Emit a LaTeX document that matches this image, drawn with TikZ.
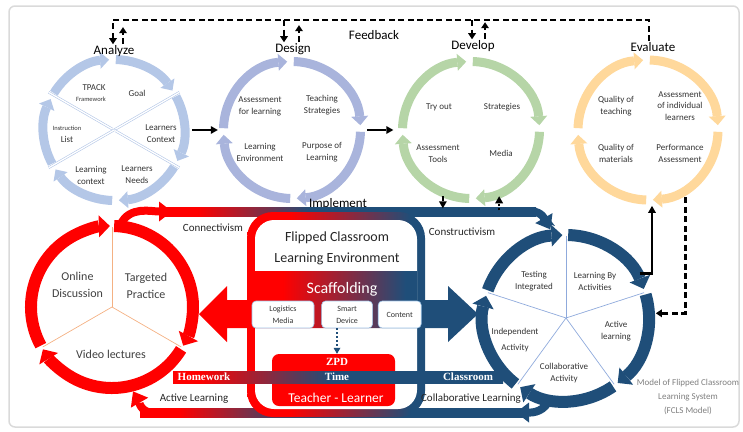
\documentclass[tikz,border=0pt]{standalone}
\usepackage{fontspec}
\setmainfont{Carlito}
\newfontfamily\bandfont{Liberation Serif}
\usetikzlibrary{arrows.meta,calc,positioning}

\definecolor{anblue}{HTML}{B4C7E7}
\definecolor{deblue}{HTML}{A9B4DC}
\definecolor{dvgreen}{HTML}{B6D5A7}
\definecolor{evorange}{HTML}{FFD89B}
\definecolor{fcred}{HTML}{FF0000}
\definecolor{fcblue}{HTML}{1F4E79}
\definecolor{peach}{HTML}{F4B183}
\definecolor{sectblue}{HTML}{8FAADC}
\definecolor{boxedge}{HTML}{9DC3E6}
\definecolor{framegray}{HTML}{DADADA}
\definecolor{txtgray}{HTML}{7F7F7F}

\pgfdeclarehorizontalshading{bandshade}{100bp}{color(0bp)=(fcred); color(30bp)=(fcred); color(45bp)=(fcblue); color(100bp)=(fcblue)}
\pgfdeclarehorizontalshading{hwshade}{100bp}{color(0bp)=(fcred); color(29bp)=(fcred); color(49bp)=(fcblue); color(100bp)=(fcblue)}
\pgfdeclarehorizontalshading{scafshade}{100bp}{color(0bp)=(fcred); color(40bp)=(fcred); color(62bp)=(fcblue); color(100bp)=(fcblue)}
\pgfdeclarehorizontalshading{boxshade}{100bp}{color(0bp)=(fcred); color(37bp)=(fcred); color(71bp)=(fcblue); color(100bp)=(fcblue)}

\tikzset{
  lbl/.style={font=\fontsize{9}{12}\selectfont, align=center, text=black!80, inner sep=1pt},
  tinylbl/.style={font=\fontsize{6.5}{8}\selectfont, text=black!80, inner sep=1pt},
  phase/.style={font=\fontsize{13}{15}\selectfont, inner sep=1pt},
  bigl/.style={font=\fontsize{12}{17}\selectfont, align=center, text=black!75},
  flow/.style={font=\fontsize{11}{13}\selectfont, text=black!85},
  bandlbl/.style={font=\bandfont\bfseries\fontsize{11}{13}\selectfont, text=white, inner sep=0pt},
  ring/.style={line width=9pt, draw=#1, -{Triangle[width=17pt,length=9pt,line width=0pt]}},
  bigring/.style={line width=12pt, draw=#1, -{Triangle[width=22pt,length=11pt,line width=0pt]}},
  sect/.style={draw=#1, line width=0.6pt, double=white, double distance=1.3pt},
  conn/.style={line width=2.5pt, -{Triangle[width=8pt,length=7pt,line width=0pt]}},
  fbline/.style={line width=2.5pt, dash pattern=on 6pt off 3.5pt},
  fbarrow/.style={fbline, -{Triangle[width=8pt,length=6pt,line width=0pt]}},
  dotarrow/.style={draw=fcblue, line width=2pt, dash pattern=on 2pt off 2pt, -{Triangle[width=7pt,length=6pt,line width=0pt]}},
  bandtip/.style={line width=8pt, draw=#1, -{Triangle[width=20pt,length=13pt,line width=0pt]}},
  scafbox/.style={draw=boxedge, fill=white, rounded corners=4pt, line width=0.6pt, align=center, font=\fontsize{8}{12}\selectfont, text=black!80, inner sep=0pt, minimum height=27pt},
  hub/.style={circle, inner sep=0pt, minimum size=#1}
}

\begin{document}
\begin{tikzpicture}[x=1pt,y=1pt]
\useasboundingbox (0,0) rectangle (743,-431);
\draw[framegray, line width=1.5pt, rounded corners=6pt] (9,-6) rectangle (739,-427);

% the four phase circles
\node[hub=150pt] (anC) at (114,-130) {};
\node[hub=146pt] (deC) at (292,-130) {};
\node[hub=147pt] (dvC) at (471,-130) {};
\node[hub=150pt] (evC) at (648,-130) {};

\foreach \a in {150,90,...,-150}
  \draw[ring=anblue] ($(anC)+({\a-1.5}:70.5)$) arc[start angle=\a-1.5, end angle=\a-56, radius=70.5];
\foreach \a in {150,90,...,-150}
  \draw[sect=anblue] (anC.center) -- ++(\a:75.5);

\foreach \a in {180,90,0,-90}
  \draw[ring=deblue] ($(deC)+({\a-1.5}:68.5)$) arc[start angle=\a-1.5, end angle=\a-86, radius=68.5];
\foreach \a in {180,90,0,-90}
  \draw[sect=deblue] (deC.center) -- ++(\a:73);

\foreach \a in {180,90,0,-90}
  \draw[ring=dvgreen] ($(dvC)+({\a-1.5}:68.5)$) arc[start angle=\a-1.5, end angle=\a-86, radius=68.5];
\foreach \a in {180,90,0,-90}
  \draw[sect=dvgreen] (dvC.center) -- ++(\a:73.5);

\foreach \a in {180,90,0,-90}
  \draw[ring=evorange] ($(evC)+({\a-1.5}:70)$) arc[start angle=\a-1.5, end angle=\a-86, radius=70];
\foreach \a in {180,90,0,-90}
  \draw[sect=evorange] (evC.center) -- ++(\a:75);

% phase texts
\node[lbl] (anTp) at (94,-88) {TPACK};
\node[tinylbl] (anFw) at (91,-99) {Framework};
\node[lbl] (anGo) at (137,-93) {Goal};
\node[lbl] (anLc) at (161,-134) {Learners\\Context};
\node[tinylbl] (anIn) at (67,-128) {Instruction};
\node[lbl] (anLi) at (67,-139) {List};
\node[lbl] (anLx) at (91,-175) {Learning\\context};
\node[lbl] (anLn) at (137,-175) {Learners\\Needs};

\node[lbl] (deAf) at (260,-106) {Assessment\\for learning};
\node[lbl] (deTs) at (322,-105) {Teaching\\Strategies};
\node[lbl] (deLe) at (260,-152.5) {Learning\\Environment};
\node[lbl] (dePl) at (322,-152.5) {Purpose of\\Learning};

\node[lbl] (dvTo) at (439,-107) {Try out};
\node[lbl] (dvSt) at (502,-107) {Strategies};
\node[lbl] (dvAt) at (438,-153.5) {Assessment\\Tools};
\node[lbl] (dvMe) at (501,-153) {Media};

\node[lbl] (evQt) at (616,-106) {Quality of\\teaching};
\node[lbl, font=\fontsize{9}{11.5}\selectfont] (evAi) at (680,-106) {Assessment\\of individual\\learners};
\node[lbl] (evQm) at (616,-153.5) {Quality of\\materials};
\node[lbl] (evPa) at (680,-153.5) {Performance\\Assessment};

\node[phase] (tAn) at (114,-51) {Analyze};
\node[phase] (tDe) at (293,-49) {Design};
\node[phase] (tDv) at (473,-46) {Develop};
\node[phase] (tEv) at (653,-47) {Evaluate};
\node[phase] (tFb) at (374,-35) {Feedback};
\node[phase] (tIm) at (338,-204) {Implement};

% feedback loop
\coordinate (fbtop) at (0,-20);
\draw[fbarrow] ([xshift=-4pt]tEv.north) -- ([xshift=-4pt]tEv.north |- fbtop) -- ([xshift=-1pt]tAn.north |- fbtop) -- ([xshift=-1pt]tAn.north);
\draw[fbarrow] ([xshift=9pt]tAn.north) -- ++(0,17);
\draw[fbarrow] ([xshift=-9pt]tDe.north |- fbtop) -- ([xshift=-9pt]tDe.north);
\draw[fbarrow] ([xshift=6pt]tDe.north) -- ++(0,17);
\draw[fbarrow] ([xshift=-1pt]tDv.north |- fbtop) -- ([xshift=-1pt]tDv.north);
\draw[fbarrow] ([xshift=12pt]tDv.north) -- ++(0,17);

\draw[conn] ([xshift=3pt]anC.east) -- ([xshift=-1pt]deC.west);
\draw[conn] ([xshift=2pt]deC.east) -- ([xshift=-4pt]dvC.west);

% FCLS part
\node[hub=174pt] (hwC) at (112,-307) {};
\node[hub=178pt] (clC) at (566,-318) {};

\shade[shading=bandshade] (160,-207) rectangle (536,-216);
\draw[bandtip=fcred] ($(hwC)+(84:83)$) to[out=65,in=180] (172,-211.5);
\draw[bandtip=fcblue] (532,-211.5) to[out=0,in=120] ($(clC)+(100:90)$);

\shade[shading=bandshade] (140,-408) rectangle (528,-417);
\draw[bandtip=fcblue] ($(clC)+(-102:86)$) to[out=-120,in=0] (516,-412.5);
\draw[bandtip=fcred] (152,-412.5) to[out=180,in=-60] ($(hwC)+(-76:87)$);

\draw[conn] ($(dvC)+(-113:72)$) -- ++(0,-12);
\draw[conn, dash pattern=on 2pt off 2pt] ($(dvC)+(-67:72)$) ++(0,-14) -- ++(0,14);

\foreach \a in {90,-30,-150}
  \draw[peach, line width=0.7pt] (hwC.center) -- ++(\a:80);
\foreach \a in {210,90,-30}
  \draw[bigring=fcred] ($(hwC)+({\a-1.5}:81)$) arc[start angle=\a-1.5, end angle=\a-118.5, radius=81];

\shade[shading=boxshade, rounded corners=26pt] (247,-212) rectangle (425,-417);
\fill[white, rounded corners=19pt] (255,-220) rectangle (417,-409);
\shade[shading=scafshade] (199,-314) -- (227,-286) -- (227,-300) -- (255,-300) -- (255,-271) -- (417,-271) -- (417,-300) -- (448,-300) -- (448,-286) -- (478,-314) -- (448,-342) -- (448,-328) -- (227,-328) -- (227,-342) -- cycle;

\node[font=\fontsize{14}{21}\selectfont, align=center, text=black!85] (flip) at (337,-248.5) {Flipped Classroom\\Learning Environment};
\node[font=\fontsize{16}{18}\selectfont, text=white] (scaf) at (342,-289) {Scaffolding};
\node[scafbox, minimum width=62pt] (logi) at (283,-314.5) {Logistics\\Media};
\node[scafbox, minimum width=51pt, right=7pt of logi] (smart) {Smart\\Device};
\node[scafbox, minimum width=43pt, right=5pt of smart] (cont) {Content};

\node[fill=fcred, rounded corners=7pt, minimum width=123pt, minimum height=52pt, inner sep=0pt] (zpd) at (333.5,-380) {};
\draw[dotarrow] ([xshift=3.5pt]zpd.north |- smart.south) -- ([xshift=3.5pt]zpd.north);
\shade[shading=hwshade] (173,-371) rectangle (503,-383);
\node[bandlbl] (zpdT) at (337,-362) {ZPD};
\node[bandlbl] (hwT) at (204,-377) {Homework};
\node[bandlbl] (tmT) at (337,-377) {Time};
\node[bandlbl] (clT) at (468,-377) {Classroom};
\node[font=\fontsize{13.5}{15}\selectfont, text=white] (tl) at (336,-398) {Teacher - Learner};

\foreach \a in {90,18,-54,-126,-198}
  \draw[sectblue, line width=0.7pt] (clC.center) -- ++(\a:82);
\foreach \a in {162,90,18,-54,-126}
  \draw[bigring=fcblue] ($(clC)+({\a-1.5}:83)$) arc[start angle=\a-1.5, end angle=\a-69.5, radius=83];

\draw[conn] ($(clC)+(31:86)$) -| ($(evC)+(-87:76)$);
\draw[fbarrow] ($(evC)+(-61:77)$) |- ($(clC)+(3:90)$);

\node[bigl] (onl) at (77.5,-284.5) {Online\\Discussion};
\node[bigl] (tgt) at (146,-285.5) {Targeted\\Practice};
\node[bigl] (vid) at (111,-354) {Video lectures};
\node[flow] (cnv) at (213,-228) {Connectivism};
\node[flow] (cns) at (462,-232) {Constructivism};
\node[flow] (actl) at (194,-399) {Active Learning};
\node[flow] (coll) at (471,-399) {Collaborative Learning};

\node[lbl] (tst) at (534,-281) {Testing\\Integrated};
\node[lbl] (lba) at (595,-281.5) {Learning By\\Activities};
\node[lbl] (actv) at (616,-331) {Active\\learning};
\node[lbl, font=\fontsize{9}{16}\selectfont] (ind) at (515,-340) {Independent\\Activity};
\node[lbl] (colv) at (564,-373) {Collaborative\\Activity};

\node[font=\fontsize{9}{14}\selectfont, align=center, text=txtgray] (model) at (688,-397) {Model of Flipped Classroom\\Learning System\\(FCLS Model)};
\end{tikzpicture}
\end{document}
